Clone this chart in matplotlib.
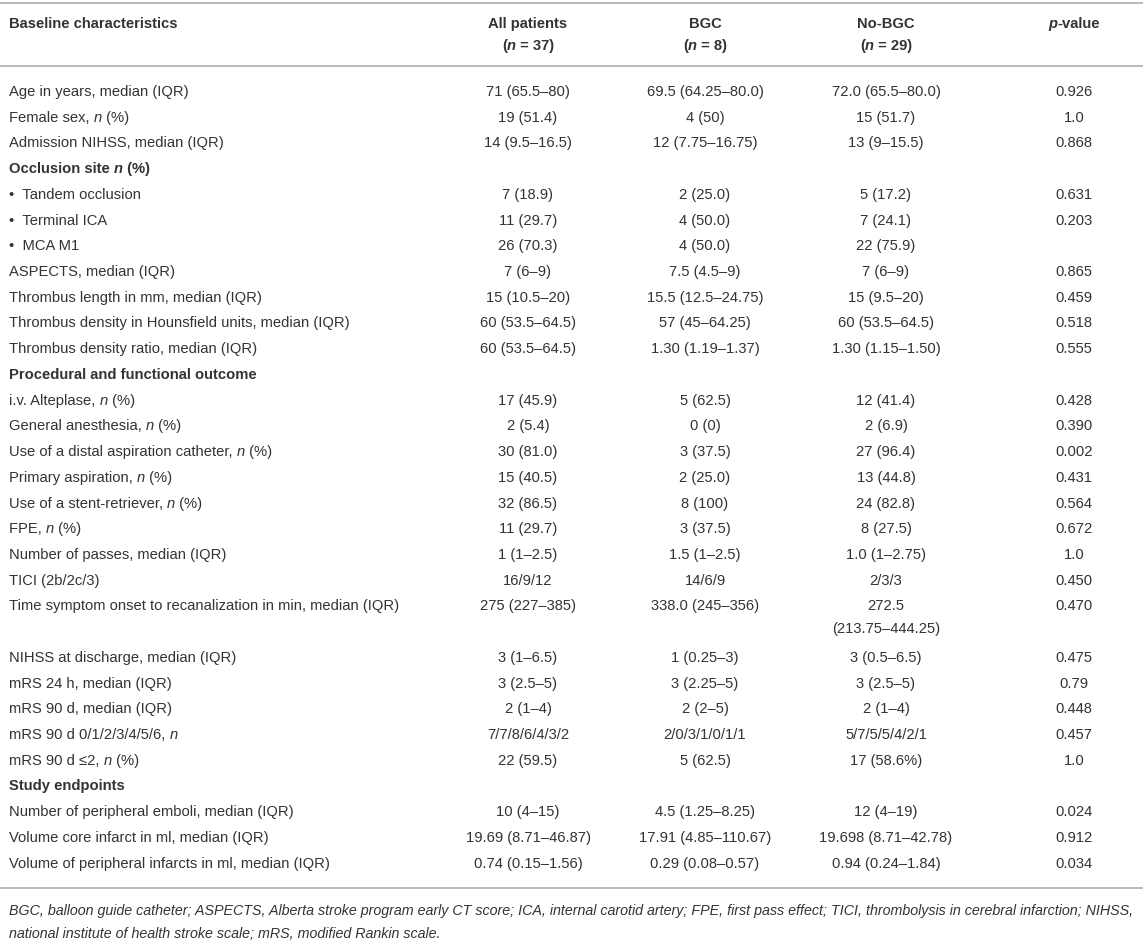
import matplotlib
matplotlib.use("Agg")
import matplotlib.pyplot as plt

# ---------------- data ----------------
header_cols = [("All patients", "37"), ("BGC", "8"), ("No-BGC", "29")]

labels = [
    "Age in years, median (IQR)",
    "Female sex, *n* (%)",
    "Admission NIHSS, median (IQR)",
    "Occlusion site *n* (%)",
    "•  Tandem occlusion",
    "•  Terminal ICA",
    "•  MCA M1",
    "ASPECTS, median (IQR)",
    "Thrombus length in mm, median (IQR)",
    "Thrombus density in Hounsfield units, median (IQR)",
    "Thrombus density ratio, median (IQR)",
    "Procedural and functional outcome",
    "i.v. Alteplase, *n* (%)",
    "General anesthesia, *n* (%)",
    "Use of a distal aspiration catheter, *n* (%)",
    "Primary aspiration, *n* (%)",
    "Use of a stent-retriever, *n* (%)",
    "FPE, *n* (%)",
    "Number of passes, median (IQR)",
    "TICI (2b/2c/3)",
    "Time symptom onset to recanalization in min, median (IQR)",
    "NIHSS at discharge, median (IQR)",
    "mRS 24 h, median (IQR)",
    "mRS 90 d, median (IQR)",
    "mRS 90 d 0/1/2/3/4/5/6, *n*",
    "mRS 90 d ≤2, *n* (%)",
    "Study endpoints",
    "Number of peripheral emboli, median (IQR)",
    "Volume core infarct in ml, median (IQR)",
    "Volume of peripheral infarcts in ml, median (IQR)",
]

section_rows = ["Occlusion site *n* (%)", "Procedural and functional outcome", "Study endpoints"]

all_patients = [
    "71 (65.5–80)", "19 (51.4)", "14 (9.5–16.5)", "",
    "7 (18.9)", "11 (29.7)", "26 (70.3)", "7 (6–9)", "15 (10.5–20)",
    "60 (53.5–64.5)", "60 (53.5–64.5)", "",
    "17 (45.9)", "2 (5.4)", "30 (81.0)", "15 (40.5)", "32 (86.5)", "11 (29.7)",
    "1 (1–2.5)", "16/9/12", "275 (227–385)", "3 (1–6.5)", "3 (2.5–5)", "2 (1–4)",
    "7/7/8/6/4/3/2", "22 (59.5)", "",
    "10 (4–15)", "19.69 (8.71–46.87)", "0.74 (0.15–1.56)",
]

bgc = [
    "69.5 (64.25–80.0)", "4 (50)", "12 (7.75–16.75)", "",
    "2 (25.0)", "4 (50.0)", "4 (50.0)", "7.5 (4.5–9)", "15.5 (12.5–24.75)",
    "57 (45–64.25)", "1.30 (1.19–1.37)", "",
    "5 (62.5)", "0 (0)", "3 (37.5)", "2 (25.0)", "8 (100)", "3 (37.5)",
    "1.5 (1–2.5)", "14/6/9", "338.0 (245–356)", "1 (0.25–3)", "3 (2.25–5)", "2 (2–5)",
    "2/0/3/1/0/1/1", "5 (62.5)", "",
    "4.5 (1.25–8.25)", "17.91 (4.85–110.67)", "0.29 (0.08–0.57)",
]

no_bgc = [
    "72.0 (65.5–80.0)", "15 (51.7)", "13 (9–15.5)", "",
    "5 (17.2)", "7 (24.1)", "22 (75.9)", "7 (6–9)", "15 (9.5–20)",
    "60 (53.5–64.5)", "1.30 (1.15–1.50)", "",
    "12 (41.4)", "2 (6.9)", "27 (96.4)", "13 (44.8)", "24 (82.8)", "8 (27.5)",
    "1.0 (1–2.75)", "2/3/3", "272.5\n(213.75–444.25)", "3 (0.5–6.5)", "3 (2.5–5)", "2 (1–4)",
    "5/7/5/5/4/2/1", "17 (58.6%)", "",
    "12 (4–19)", "19.698 (8.71–42.78)", "0.94 (0.24–1.84)",
]

p_values = [
    "0.926", "1.0", "0.868", "",
    "0.631", "0.203", "", "0.865", "0.459",
    "0.518", "0.555", "",
    "0.428", "0.390", "0.002", "0.431", "0.564", "0.672",
    "1.0", "0.450", "0.470", "0.475", "0.79", "0.448",
    "0.457", "1.0", "",
    "0.024", "0.912", "0.034",
]

footnote_lines = [
    "BGC, balloon guide catheter; ASPECTS, Alberta stroke program early CT score; ICA, internal carotid artery; "
    "FPE, first pass effect; TICI, thrombolysis in cerebral infarction; NIHSS,",
    "national institute of health stroke scale; mRS, modified Rankin scale.",
]

# ---------------- layout / style ----------------
W, H = 1143, 942
FONT = "Liberation Sans"
FS = 10.6
TXT = "#333333"
RULE = "#b3b3b3"

col_x = [528, 705, 886, 1074]
label_x = 9
y_hdr1, y_hdr2 = 23, 45
y_top_rule, y_hdr_rule = 3, 66
y_first = 91
step = 25.72
line2_gap = 22.5
foot_right = 1139

fig = plt.figure(figsize=(W / 100, H / 100), dpi=100)
ax = fig.add_axes([0, 0, 1, 1])
ax.set_xlim(0, W)
ax.set_ylim(H, 0)
ax.axis("off")
renderer = fig.canvas.get_renderer()

BASE = 5.0  # center -> baseline offset in px


def measure(s, weight, style, size):
    t1 = ax.text(0, 0, s + "|", fontsize=size, fontweight=weight, fontstyle=style, family=FONT)
    t2 = ax.text(0, 0, "|", fontsize=size, fontweight=weight, fontstyle=style, family=FONT)
    w = t1.get_window_extent(renderer).width - t2.get_window_extent(renderer).width
    t1.remove()
    t2.remove()
    return w


def parse(s):
    parts = s.split("*")
    return [(p, i % 2 == 1) for i, p in enumerate(parts) if p]


def draw_rich(x, y, s, bold=False, ha="left", size=FS, all_italic=False, color=TXT):
    segs = parse(s)
    weight = "bold" if bold else "normal"
    widths = [measure(p, weight, "italic" if (it or all_italic) else "normal", size) for p, it in segs]
    total = sum(widths)
    cur = x if ha == "left" else x - total / 2
    for (p, it), w in zip(segs, widths):
        ax.text(cur, y + BASE, p, fontsize=size, fontweight=weight,
                fontstyle="italic" if (it or all_italic) else "normal",
                family=FONT, color=color, va="baseline", ha="left")
        cur += w


def hrule(yy):
    ax.plot([0, W], [yy, yy], color=RULE, lw=1.3, solid_capstyle="butt")


hrule(y_top_rule)
hrule(y_hdr_rule)

# header
draw_rich(label_x, y_hdr1, "Baseline characteristics", bold=True)
for (name, n), cx in zip(header_cols, col_x[:3]):
    draw_rich(cx, y_hdr1, name, bold=True, ha="center")
    draw_rich(cx, y_hdr2, "(*n* = " + n + ")", bold=True, ha="center")
draw_rich(col_x[3], y_hdr1, "*p*-value", bold=True, ha="center")

# body
y = y_first
for i, lab in enumerate(labels):
    draw_rich(label_x, y, lab, bold=(lab in section_rows))
    extra = 0
    for cx, vals in zip(col_x, [all_patients, bgc, no_bgc, p_values]):
        v = vals[i]
        if not v:
            continue
        lines = v.split("\n")
        for k, ln in enumerate(lines):
            draw_rich(cx, y + k * line2_gap, ln, ha="center")
        extra = max(extra, len(lines) - 1)
    y += step * (1 + extra)

y_last = y - step
y_bot_rule = y_last + 25
hrule(y_bot_rule)

# footnote: size chosen so that the first line spans the table width
w10 = measure(footnote_lines[0], "normal", "italic", 10)
fs_foot = 10 * (foot_right - label_x) / w10
fy = y_bot_rule + 22
for ln in footnote_lines:
    draw_rich(label_x, fy, ln, size=fs_foot, all_italic=True)
    fy += 23

fig.savefig("out.png", dpi=100)
